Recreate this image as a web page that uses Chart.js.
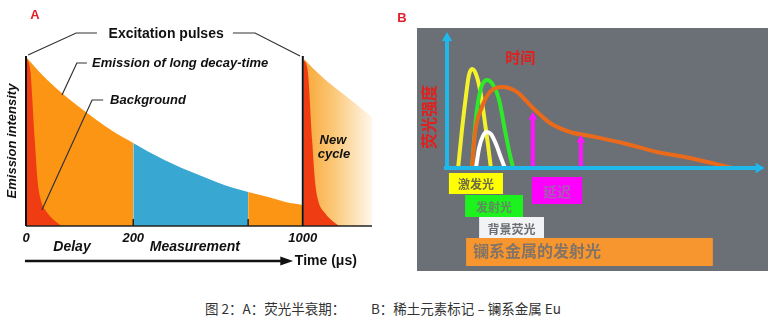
<!DOCTYPE html>
<html>
<head>
<meta charset="utf-8">
<script src="https://cdn.jsdelivr.net/npm/chart.js@4.4.0/dist/chart.umd.min.js"></script>
<style>
  body { margin: 0; background: #fff; width: 776px; height: 324px; position: relative; overflow: hidden; }
  #wrapA { position: absolute; left: 0; top: 0; width: 385px; height: 290px; }
  #wrapB { position: absolute; left: 390px; top: 0; width: 386px; height: 290px; }
  .cap { position: absolute; top: 298px; white-space: pre;
    font: 13.5px "Noto Sans CJK SC", "Noto Sans", sans-serif; color: #333; }
</style>
</head>
<body>
<div id="wrapA"><canvas id="chartA" width="385" height="290"></canvas></div>
<div id="wrapB"><canvas id="chartB" width="386" height="290"></canvas></div>
<div class="cap" style="left:205px">图 2：A：荧光半衰期：</div>
<div class="cap" style="left:371px">B：稀土元素标记 – 镧系金属 Eu</div>
<script>
// ---- panel A: long decay emission, schematic time axis (0..100) ----
const decayT = [0, 5, 10, 15, 20, 25, 31, 35, 40, 45, 50, 55, 60, 64.2, 70, 75, 80];
const decayI = [169, 150, 134, 120, 107, 95, 83, 75, 66, 58, 51, 44, 38, 34, 29, 24, 21];
const delayEnd = 31;      // 200 µs
const measureEnd = 64.2;  // end of measurement window
const pulseT = 80;        // 1000 µs, next excitation pulse

const bgT = [0, 0.8, 1.3, 2.5, 3.3, 4.2, 6.2, 9.1, 10.3];
const bgI = [169, 163, 154, 88, 47, 27, 13, 3, 0];

const nextT = [80.3, 85, 88.7, 92.8, 100];
const nextI = [167, 151, 140, 129, 109];
const nextBgT = [80.2, 81, 81.5, 82.7, 83.5, 84.4, 86.4, 89.3, 90.5];
const nextBgI = [166, 162, 153, 86, 46, 26, 13, 3, 0];

const tickT = [0, 31, 80];
const tickLabels = ['0', '200', '1000'];

// ---- panel B: lanthanide time-resolved fluorescence ----
const yellowT = [3.5, 4.7, 6, 6.9, 7.9, 9.1, 10.4, 11.6, 12.9, 13.8];
const yellowI = [0, 38, 73, 93, 99, 94, 78, 53, 23, 0];
const greenT = [7.9, 8.5, 9.4, 10.7, 12.6, 14.5, 16.4, 18.2, 19.8, 20.8];
const greenI = [0, 28, 58, 80, 88, 83, 68, 38, 13, 0];
const whiteT = [9.1, 10.1, 11.3, 12.5, 13.8, 15.4, 17, 18.2];
const whiteI = [0, 20, 32, 36, 34, 24, 10, 0];
const lnT = [7.9, 8.8, 11, 13.5, 17.3, 22, 26.7, 32.4, 38.7, 45, 55.3, 66, 76.4, 89.9];
const lnI = [0, 35, 61, 76, 81, 76, 61, 45, 36, 32, 25, 16, 10, 0];
const gateT = [27, 42.1];
const gateI = [55, 32];

const SANS = '"Liberation Sans", Arial, sans-serif';
const CJK = '"Noto Sans CJK SC", sans-serif';

function pts(xs, ys) { return xs.map((x, i) => ({x: x, y: ys[i]})); }
function slice(lo, hi) {
  const out = [];
  decayT.forEach((t, i) => { if (t >= lo && t <= hi) out.push({x: t, y: decayI[i]}); });
  return out;
}
function seg(x0, y0, x1, y1, color, width, order) {
  return { data: [{x: x0, y: y0}, {x: x1, y: y1}], borderColor: color, borderWidth: width,
    pointRadius: 0, fill: false, order: order, clip: false };
}

const ORANGE = '#fb9513';
const BLUE = '#38a7d1';
const RED = '#f03c12';

function area(data, color, order) {
  return { data: data, backgroundColor: color, borderWidth: 0, pointRadius: 0,
    fill: 'origin', cubicInterpolationMode: 'monotone', order: order };
}

const annotA = {
  id: 'annotA',
  afterDraw(chart) {
    const {ctx, scales} = chart;
    const px = u => scales.x.getPixelForValue(u);
    const py = h => scales.y.getPixelForValue(h);
    const text = (s, u, h, font, align, color) => {
      ctx.font = font; ctx.fillStyle = color || '#111';
      ctx.textAlign = align || 'center'; ctx.textBaseline = 'middle';
      ctx.fillText(s, px(u), py(h));
    };
    const leader = (p) => {
      ctx.beginPath();
      p.forEach((q, i) => i ? ctx.lineTo(px(q[0]), py(q[1])) : ctx.moveTo(px(q[0]), py(q[1])));
      ctx.strokeStyle = '#333'; ctx.lineWidth = 1.2; ctx.stroke();
    };
    ctx.save();
    text('A', 2.6, 211, 'bold 13px ' + SANS, 'center', '#e2202a');
    text('Excitation pulses', 40.5, 192, 'bold 14px ' + SANS);
    leader([[0.6, 171], [14.5, 193], [20.5, 193]]);
    leader([[59.8, 193], [66.2, 193], [79.2, 170]]);
    text('Emission of long decay-time', 19.1, 163, 'italic bold 13px ' + SANS, 'left');
    leader([[10.4, 131], [14.7, 163], [17.6, 163]]);
    text('Background', 24.3, 126, 'italic bold 13px ' + SANS, 'left');
    leader([[4.6, 16], [19.1, 126], [22.3, 126]]);
    text('New', 88.7, 86, 'italic bold 13px ' + SANS);
    text('cycle', 89, 72, 'italic bold 13px ' + SANS);

    ctx.save();
    ctx.translate(px(-4), py(85));
    ctx.rotate(-Math.PI / 2);
    ctx.font = 'italic bold 13px ' + SANS; ctx.fillStyle = '#111';
    ctx.textAlign = 'center'; ctx.textBaseline = 'middle';
    ctx.fillText('Emission intensity', 0, 0);
    ctx.restore();

    tickT.forEach((t, i) => text(tickLabels[i], t, -12, 'italic bold 13px ' + SANS));
    text('Delay', 13.3, -21, 'italic bold 14px ' + SANS);
    text('Measurement', 48.8, -21, 'italic bold 14px ' + SANS);

    // time arrow
    const ay = py(-35);
    ctx.beginPath();
    ctx.moveTo(px(-0.3), ay); ctx.lineTo(px(74.5), ay);
    ctx.strokeStyle = '#111'; ctx.lineWidth = 2.5; ctx.stroke();
    ctx.beginPath();
    ctx.moveTo(px(77.2), ay); ctx.lineTo(px(73.5), ay - 4.5); ctx.lineTo(px(73.5), ay + 4.5);
    ctx.closePath(); ctx.fillStyle = '#111'; ctx.fill();
    text('Time (\u03bcs)', 77.7, -35, 'bold 14px ' + SANS, 'left');
    ctx.restore();
  }
};

new Chart(document.getElementById('chartA'), {
  type: 'line',
  data: {
    datasets: [
      seg(0, 0, 0, 170, '#111', 2, 0),
      seg(pulseT, 0, pulseT, 170, '#111', 2, 0),
      seg(0, 0, 100, 0, '#222', 1.5, 0),
      seg(delayEnd, 0, delayEnd, 7, '#222', 1.5, 0),
      seg(measureEnd, 0, measureEnd, 7, '#222', 1.5, 0),
      area(pts(bgT, bgI), RED, 1),
      area(pts(nextBgT, nextBgI), RED, 1),
      area(slice(0, delayEnd), ORANGE, 2),
      area(slice(delayEnd, measureEnd), BLUE, 2),
      area(slice(measureEnd, pulseT), ORANGE, 2),
      area(pts(nextT, nextI), (c) => {
        const ch = c.chart;
        if (!ch.chartArea) return '#f8b04a';
        const x0 = ch.scales.x.getPixelForValue(80), x1 = ch.scales.x.getPixelForValue(100);
        const g = ch.ctx.createLinearGradient(x0, 0, x1, 0);
        g.addColorStop(0, '#f7a633');
        g.addColorStop(0.45, '#fbc878');
        g.addColorStop(1, '#fff7ec');
        return g;
      }, 3)
    ]
  },
  options: {
    responsive: false,
    animation: false,
    layout: { padding: { left: 26, right: 13, top: 51, bottom: 64 } },
    scales: {
      x: { type: 'linear', min: 0, max: 100, display: false },
      y: { min: 0, max: 175, display: false }
    },
    plugins: { legend: { display: false }, tooltip: { enabled: false } }
  },
  plugins: [annotA]
});

// ---- panel B ----
const annotB = {
  id: 'annotB',
  beforeDraw(chart) {
    const {ctx} = chart;
    ctx.save();
    ctx.fillStyle = '#6b6f76';
    ctx.fillRect(27, 28, 351, 243);
    ctx.restore();
  },
  afterDraw(chart) {
    const {ctx, scales} = chart;
    const px = u => scales.x.getPixelForValue(u);
    const py = h => scales.y.getPixelForValue(h);
    const box = (u0, u1, h0, h1, fill, label, color, font) => {
      ctx.fillStyle = fill;
      ctx.fillRect(px(u0), py(h0), px(u1) - px(u0), py(h1) - py(h0));
      ctx.font = font; ctx.fillStyle = color;
      ctx.textAlign = 'center'; ctx.textBaseline = 'middle';
      ctx.fillText(label, (px(u0) + px(u1)) / 2, (py(h0) + py(h1)) / 2 + 1);
    };
    ctx.save();
    ctx.font = 'bold 13px ' + SANS; ctx.fillStyle = '#e2202a';
    ctx.textAlign = 'center'; ctx.textBaseline = 'middle';
    ctx.fillText('B', px(-14.2), py(150));

    ctx.font = 'bold 15px ' + CJK; ctx.fillStyle = '#e0201c';
    ctx.fillText('时间', px(23), py(111));

    // y-axis title, turned to read bottom-up
    ctx.save();
    ctx.translate(px(-5.6), py(51));
    ctx.rotate(-Math.PI / 2);
    ctx.font = 'bold 16px ' + CJK;
    ctx.fillText('荧光强度', 0, 0);
    ctx.restore();

    box(0.6, 17.6, -5, -26, '#ffff00', '激发光', '#6f6d48', 'bold 12px ' + CJK);
    box(26.7, 42.5, -9, -36, '#ff00ff', '延迟', '#a65cb4', 'bold 14px ' + CJK);
    box(5.7, 23.9, -27, -49, '#1ef21e', '发射光', '#5f8a60', 'bold 12px ' + CJK);
    box(10.1, 30.5, -49, -71, '#f2f3f5', '背景荧光', '#6a6d72', 'bold 12px ' + CJK);
    ctx.fillStyle = '#f7952e';
    ctx.fillRect(px(6), py(-70), px(83.6) - px(6), py(-98) - py(-70));
    ctx.font = 'bold 16px ' + CJK; ctx.fillStyle = '#827466';
    ctx.textAlign = 'left';
    ctx.fillText('镧系金属的发射光', px(8.2), py(-83));
    ctx.restore();
  }
};

function curve(xs, ys, color) {
  return { data: pts(xs, ys), borderColor: color, borderWidth: 4, pointRadius: 0,
    fill: false, cubicInterpolationMode: 'monotone', order: 1 };
}
function arrow(x0, y0, x1, y1, color, width, rot, r) {
  return { data: [{x: x0, y: y0}, {x: x1, y: y1}], borderColor: color, backgroundColor: color,
    borderWidth: width, pointRadius: [0, r], pointStyle: 'triangle', pointRotation: rot,
    pointBorderWidth: 0, fill: false, order: 0, clip: false };
}

new Chart(document.getElementById('chartB'), {
  type: 'line',
  data: {
    datasets: [
      arrow(0, -1, 0, 130, '#1fb8ea', 4, 0, 6),
      arrow(-1, 0, 98, 0, '#1fb8ea', 4, 90, 6),
      arrow(gateT[0], 0, gateT[0], gateI[0] - 4, '#ff14ff', 4, 0, 5),
      arrow(gateT[1], 0, gateT[1], gateI[1] - 4, '#ff14ff', 4, 0, 5),
      curve(whiteT, whiteI, '#ffffff'),
      curve(lnT, lnI, '#ea6a1c'),
      curve(greenT, greenI, '#2fe82a'),
      curve(yellowT, yellowI, '#f4f22a')
    ]
  },
  options: {
    responsive: false,
    animation: false,
    layout: { padding: { left: 57, right: 11, top: 32, bottom: 122 } },
    scales: {
      x: { type: 'linear', min: 0, max: 100, display: false },
      y: { min: 0, max: 136, display: false }
    },
    plugins: { legend: { display: false }, tooltip: { enabled: false } }
  },
  plugins: [annotB]
});
</script>
</body>
</html>
